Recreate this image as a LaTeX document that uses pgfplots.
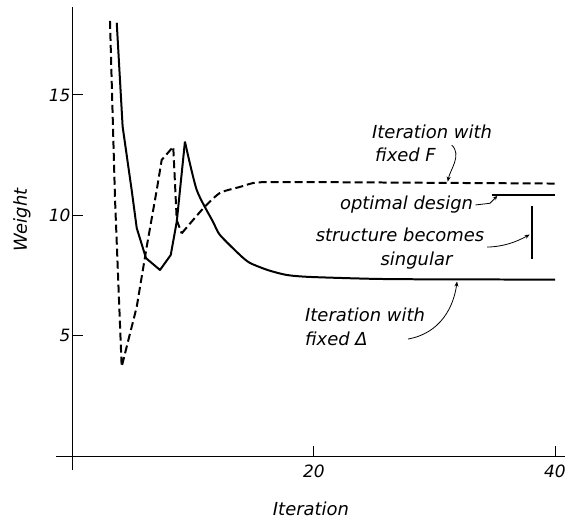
\documentclass[border=0pt]{standalone}
\usepackage{fontspec}
\setmainfont{DejaVu Sans}
\usepackage{pgfplots}
\pgfplotsset{compat=1.18}
\usetikzlibrary{arrows.meta}
\newcommand{\lab}{\fontsize{18}{21}\selectfont\itshape}
\begin{document}
\begin{tikzpicture}
\useasboundingbox (-56bp,-52bp) rectangle (509bp,470bp);
\begin{axis}[
  at={(0,0)}, anchor=south west,
  scale only axis, width=509bp, height=462.9bp,
  xmin=-1.41, xmax=40.83, ymin=-0.58, ymax=18.65,
  axis lines=middle,
  axis line style={-, line width=1pt},
  xtick={20,40}, ytick={5,10,15},
  tick align=center,
  major tick length=10bp,
  xtick style={line width=1pt, black, yshift=5bp},
  ytick style={line width=1pt, black, xshift=5bp},
  /pgf/number format/assume math mode=true,
  ticklabel style={font=\fontsize{17}{17}\selectfont\itshape},
  yticklabel style={xshift=6bp},
  clip=false,
]
% Iteration with fixed Delta (solid)
\addplot[black, line width=2pt, line join=round] coordinates {
 (3.63,18.0) (4.12,13.68) (4.87,11.05) (5.29,9.47) (6.06,8.22) (7.22,7.73)
 (8.11,8.35) (8.61,9.73) (9.29,13.06)
};
\addplot[black, line width=2pt, smooth, tension=0.4] coordinates {
 (9.29,13.06) (10.27,11.05) (11.62,9.73) (12.2,9.18)
 (13.86,8.35) (14.69,8.02) (16.2,7.72) (17.76,7.52) (19.67,7.44) (25,7.36)
 (30,7.34) (40,7.33)
};
% Iteration with fixed F (dashed)
\addplot[black, line width=2pt, dash pattern=on 8bp off 4bp, line join=round] coordinates {
 (3.07,18.08) (3.49,10.64) (4.04,3.71) (5.29,6.2) (6.12,8.7) (6.95,11.05)
 (7.36,12.3) (8.32,12.85) (8.61,9.8) (9.02,9.25)
};
\addplot[black, line width=2pt, dash pattern=on 8bp off 4bp, smooth, tension=0.4] coordinates {
 (9.02,9.25) (10.81,10.29) (12.2,10.93)
 (13.86,11.18) (14.94,11.34) (16,11.38) (20,11.38) (30,11.35) (40,11.32)
};
% optimal design
\addplot[black, line width=1.3pt] coordinates {(34.75,10.84) (40,10.84)};
% structure becomes singular
\addplot[black, line width=2pt] coordinates {(38.1,10.39) (38.1,8.17)};

% annotations
\node[anchor=west, font=\lab, inner sep=0pt] at (axis cs:24.81,13.46) {Iteration with};
\node[anchor=west, font=\lab, inner sep=0pt] at (axis cs:25.06,12.5) {fixed F};
\draw[line width=0.8pt, -{Stealth[length=5bp,width=4bp]}] (axis cs:31.43,12.92) .. controls (axis cs:32.3,12.5) and (axis cs:31.3,11.9) .. (axis cs:31.1,11.4);

\node[font=\lab, inner sep=0pt] at (axis cs:27.68,10.43) {optimal design};
\draw[line width=0.8pt, -{Stealth[length=4bp,width=4bp]}] (axis cs:33.4,10.43) -- (axis cs:34.6,10.5) -- (axis cs:35.2,10.8);

\node[font=\lab, inner sep=0pt] at (axis cs:27.14,9.18) {structure becomes};
\node[font=\lab, inner sep=0pt] at (axis cs:28.51,8.14) {singular};
\draw[line width=0.8pt, -{Stealth[length=5bp,width=4bp]}] (axis cs:34.36,8.68) .. controls (axis cs:35.8,8.7) and (axis cs:36.8,8.9) .. (axis cs:37.9,9.2);

\node[anchor=west, font=\lab, inner sep=0pt] at (axis cs:19.25,5.86) {Iteration with};
\node[anchor=west, font=\lab, inner sep=0pt] at (axis cs:19.25,4.86) {fixed Δ};
\draw[line width=0.8pt, -{Stealth[length=5bp,width=4bp]}] (axis cs:27.8,4.86) .. controls (axis cs:30.5,5.1) and (axis cs:31.6,6.2) .. (axis cs:31.87,7.25);

\node[font=\lab, rotate=90] at (axis cs:-4.23,9.8) {Weight};
\node[font=\lab] at (axis cs:19.75,-2.2) {Iteration};
\end{axis}
\end{tikzpicture}
\end{document}
